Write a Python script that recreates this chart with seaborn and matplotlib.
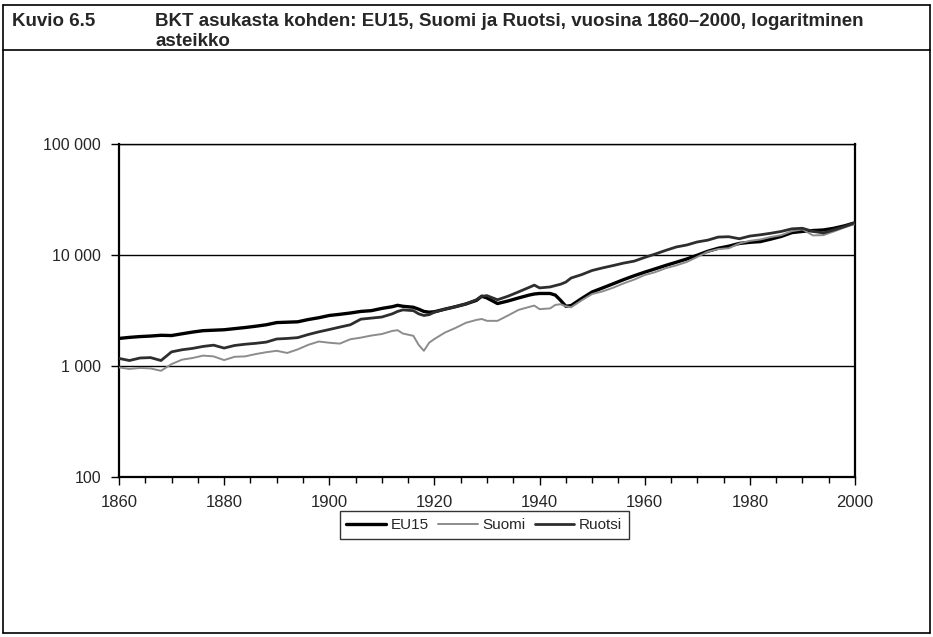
import matplotlib
matplotlib.use('Agg')
import matplotlib.pyplot as plt
import seaborn as sns
import pandas as pd
from matplotlib.lines import Line2D
from matplotlib.ticker import FixedLocator, MultipleLocator, NullLocator

YEARS = [1860, 1862, 1864, 1866, 1868, 1870, 1872, 1874, 1876, 1878,
         1880, 1882, 1884, 1886, 1888, 1890, 1892, 1894, 1896, 1898,
         1900, 1902, 1904, 1906, 1908, 1910, 1912, 1913, 1914, 1916,
         1917, 1918, 1919, 1920, 1922, 1924, 1926, 1928, 1929, 1930,
         1932, 1934, 1936, 1938, 1939, 1940, 1942, 1943, 1944, 1945,
         1946, 1948, 1950, 1952, 1954, 1956, 1958, 1960, 1962, 1964,
         1966, 1968, 1970, 1972, 1974, 1976, 1978, 1980, 1982, 1984,
         1986, 1988, 1990, 1992, 1994, 1996, 1998, 2000]

EU15 = [1770, 1810, 1840, 1860, 1890, 1880, 1950, 2020, 2080, 2100,
        2120, 2170, 2220, 2280, 2350, 2460, 2480, 2500, 2620, 2720,
        2850, 2920, 3000, 3100, 3150, 3300, 3420, 3520, 3450, 3380,
        3250, 3100, 3050, 3080, 3250, 3420, 3620, 3900, 4250, 4100,
        3650, 3850, 4100, 4350, 4450, 4500, 4500, 4350, 3900, 3450,
        3500, 4050, 4640, 5050, 5500, 6000, 6500, 7000, 7500, 8050,
        8600, 9200, 9950, 10800, 11500, 12000, 12700, 13000, 13200, 13900,
        14700, 15900, 16300, 16600, 16800, 17400, 18300, 19500]

SUOMI = [970, 940, 960, 950, 905, 1040, 1140, 1180, 1240, 1220,
         1130, 1210, 1220, 1280, 1330, 1370, 1310, 1410, 1550, 1660,
         1620, 1590, 1740, 1800, 1880, 1940, 2070, 2100, 1960, 1870,
         1550, 1370, 1620, 1750, 2000, 2200, 2450, 2600, 2650, 2550,
         2550, 2850, 3200, 3400, 3500, 3250, 3300, 3550, 3600, 3450,
         3380, 3900, 4450, 4700, 5070, 5550, 6000, 6600, 7000, 7600,
         8050, 8650, 9600, 10700, 11300, 11500, 12700, 13400, 13800, 14500,
         15100, 16400, 17000, 15000, 15100, 16300, 17700, 19000]

RUOTSI = [1170, 1120, 1180, 1190, 1120, 1340, 1400, 1440, 1500, 1540,
          1450, 1530, 1570, 1600, 1640, 1750, 1770, 1800, 1920, 2030,
          2130, 2240, 2350, 2640, 2700, 2760, 2950, 3100, 3200, 3150,
          2950, 2850, 2900, 3050, 3250, 3420, 3620, 3950, 4250, 4300,
          3950, 4250, 4650, 5100, 5350, 5050, 5150, 5300, 5450, 5700,
          6200, 6650, 7250, 7650, 8030, 8450, 8800, 9500, 10200, 11000,
          11800, 12300, 13100, 13600, 14500, 14600, 14000, 14800, 15200, 15700,
          16300, 17200, 17400, 16300, 15800, 16800, 18000, 19500]

SERIES = ['EU15', 'Suomi', 'Ruotsi']
Y_TICKS = [100, 1000, 10000, 100000]
Y_LABELS = ['100', '1 000', '10 000', '100 000']

df = pd.DataFrame({
    'vuosi': YEARS * 3,
    'bkt': EU15 + SUOMI + RUOTSI,
    'sarja': [s for s in SERIES for _ in YEARS],
})

sns.set_theme(style='white')
plt.rcParams['font.family'] = ['Liberation Sans', 'DejaVu Sans']

fig = plt.figure(figsize=(9.33, 6.37), dpi=100)
ax = fig.add_axes([0.1275, 0.2512, 0.7889, 0.5228])

styles = {
    'EU15': ('black', 2.4),
    'Suomi': ('#8c8c8c', 1.4),
    'Ruotsi': ('#2e2e2e', 2.0),
}
for name in SERIES:
    color, lw = styles[name]
    sns.lineplot(data=df[df['sarja'] == name], x='vuosi', y='bkt',
                 color=color, lw=lw, label=name, ax=ax, zorder=3)

ax.set_yscale('log')
ax.set_ylim(100, 100000)
ax.set_xlim(1860, 2000)
ax.yaxis.set_major_locator(FixedLocator(Y_TICKS))
ax.set_yticklabels(Y_LABELS, fontsize=11.5)
ax.yaxis.set_minor_locator(NullLocator())
ax.set_xticks(range(1860, 2001, 20))
ax.xaxis.set_minor_locator(MultipleLocator(5))
for lab in ax.get_xticklabels():
    lab.set_fontsize(12)
ax.tick_params(which='both', bottom=True, left=True, direction='out',
               color='black', width=1)
ax.tick_params(which='major', length=6, pad=7)
ax.tick_params(which='minor', length=4)
ax.grid(axis='y', which='major', color='black', lw=1)
ax.set_axisbelow(True)
ax.set_xlabel('')
ax.set_ylabel('')
for sp in ax.spines.values():
    sp.set_color('black')
    sp.set_linewidth(1.6)
ax.spines['top'].set_linewidth(1.0)

leg = ax.legend(loc='center', bbox_to_anchor=(0.519, 0.176),
                bbox_transform=fig.transFigure, ncol=3, frameon=True,
                fancybox=False, edgecolor='black', fontsize=11,
                handlelength=2.6, columnspacing=0.6, handletextpad=0.3,
                borderpad=0.45, borderaxespad=0)
leg.get_frame().set_linewidth(1.0)

# kehys ja otsikkokaista
H, W = 637.0, 933.0
for (x0, y0, x1, y1) in [(3, 5, 930, 5), (3, 50, 930, 50), (3, 633, 930, 633),
                         (3, 5, 3, 633), (930, 5, 930, 633)]:
    fig.add_artist(Line2D([x0 / W, x1 / W], [1 - y0 / H, 1 - y1 / H],
                          color='black', lw=1.2, transform=fig.transFigure))

fig.text(12 / W, 1 - 21 / H, 'Kuvio 6.5', fontsize=13.5, weight='bold', va='center')
fig.text(155 / W, 1 - 21 / H,
         'BKT asukasta kohden: EU15, Suomi ja Ruotsi, vuosina 1860–2000, logaritminen',
         fontsize=13.5, weight='bold', va='center')
fig.text(155 / W, 1 - 41 / H, 'asteikko', fontsize=13.5, weight='bold', va='center')

fig.savefig('out.png', dpi=100)
